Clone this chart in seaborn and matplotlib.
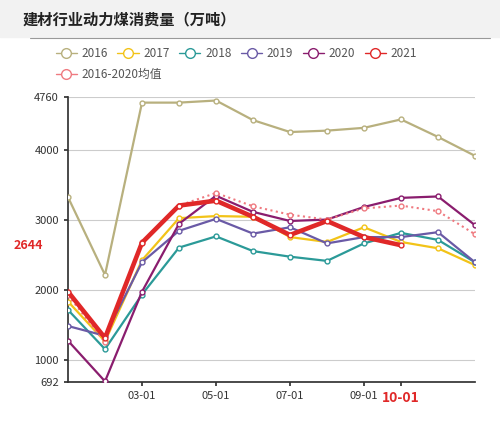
import matplotlib
matplotlib.use("Agg")
import matplotlib.pyplot as plt
import seaborn as sns
import pandas as pd
from matplotlib.lines import Line2D

sns.set_theme(style="white")
plt.rcParams['font.family'] = ['Noto Sans CJK SC', 'DejaVu Sans']

months = ["01-01","02-01","03-01","04-01","05-01","06-01","07-01","08-01","09-01","10-01","11-01","12-01"]
v2016 = [3330, 2220, 4680, 4680, 4710, 4430, 4260, 4280, 4320, 4440, 4190, 3920]
v2017 = [1840, 1270, 2430, 3030, 3060, 3050, 2760, 2690, 2900, 2690, 2600, 2360]
v2018 = [1720, 1160, 1940, 2610, 2770, 2560, 2480, 2420, 2670, 2820, 2720, 2400]
v2019 = [1490, 1350, 2400, 2850, 3020, 2810, 2900, 2670, 2760, 2760, 2830, 2400]
v2020 = [1280, 700, 1980, 2950, 3350, 3120, 2990, 3010, 3190, 3320, 3340, 2930]
v2021 = [1980, 1320, 2680, 3210, 3280, 3050, 2790, 2990, 2760, 2644]
vavg = [1930, 1260, 2690, 3210, 3390, 3200, 3080, 3010, 3170, 3210, 3130, 2800]
yticks = [692, 1000, 2000, 3000, 4000, 4760]

series = [("2016", v2016, "#b8b07e", 1.6, "-"),
          ("2017", v2017, "#f2c318", 1.6, "-"),
          ("2018", v2018, "#2b9a98", 1.6, "-"),
          ("2019", v2019, "#6a5aa6", 1.6, "-"),
          ("2020", v2020, "#8a1d6e", 1.6, "-"),
          ("2021", v2021, "#e02828", 3.3, "-"),
          ("2016-2020均值", vavg, "#ef7a80", 1.5, ":")]

fig = plt.figure(figsize=(5, 4.41), dpi=100)
fig.patch.set_facecolor("white")
fig.add_artist(plt.Rectangle((0, 0.915), 1, 0.085, transform=fig.transFigure, color="#f2f2f2", zorder=0))
fig.add_artist(Line2D([0.06, 0.98], [0.913, 0.913], transform=fig.transFigure, color="#999999", lw=0.8))
fig.text(0.045, 0.955, "建材行业动力煤消费量（万吨）", fontsize=11, fontweight="bold", va="center", color="#222222")

ax = fig.add_axes([0.136, 0.134, 0.814, 0.646])
for name, vals, col, lw, ls in series:
    df = pd.DataFrame({"x": range(len(vals)), "y": vals})
    sns.lineplot(data=df, x="x", y="y", ax=ax, color=col, lw=lw, linestyle=ls,
                 marker="o", markersize=3.5, markerfacecolor="white", markeredgecolor=col,
                 markeredgewidth=1, zorder=5 if name == "2021" else 3)

ax.set_xlim(0, 11)
ax.set_ylim(692, 4760)
ax.set_yticks(yticks)
ax.set_yticklabels([str(t) for t in yticks], fontsize=8, color="#333333")
ax.set_xticks([2, 4, 6, 8, 9])
ax.set_xticklabels(["03-01", "05-01", "07-01", "09-01", "10-01"], fontsize=8, color="#333333")
ax.get_xticklabels()[-1].set_color("#e02828")
ax.get_xticklabels()[-1].set_fontweight("bold")
ax.get_xticklabels()[-1].set_fontsize(10)
ax.set_xlabel(""); ax.set_ylabel("")
ax.grid(axis="y", color="#cccccc", lw=0.8)
for s in ["top", "right"]:
    ax.spines[s].set_visible(False)
ax.spines["left"].set_color("#333333")
ax.spines["bottom"].set_color("#333333")
ax.tick_params(axis="both", length=3, color="#333333", left=True, bottom=True)
ax.text(-0.06, 2644, "2644", transform=ax.get_yaxis_transform(), ha="right", va="center",
        color="#e02828", fontsize=9, fontweight="bold")

handles = [Line2D([], [], color=c, lw=1, marker="o", markersize=7, markerfacecolor="white",
                  markeredgecolor=c, linestyle="-") for _, _, c, _, _ in series]
labels = [s[0] for s in series]
fig.legend(handles[:6], labels[:6], loc="upper left", bbox_to_anchor=(0.09, 0.918), ncol=6,
           frameon=False, fontsize=8.5, handlelength=1.8, columnspacing=0.8, handletextpad=0.4, labelcolor="#555555")
fig.legend(handles[6:], labels[6:], loc="upper left", bbox_to_anchor=(0.09, 0.87), ncol=1,
           frameon=False, fontsize=8.5, handlelength=1.8, handletextpad=0.4, labelcolor="#555555")
fig.savefig("out.png", dpi=100)
